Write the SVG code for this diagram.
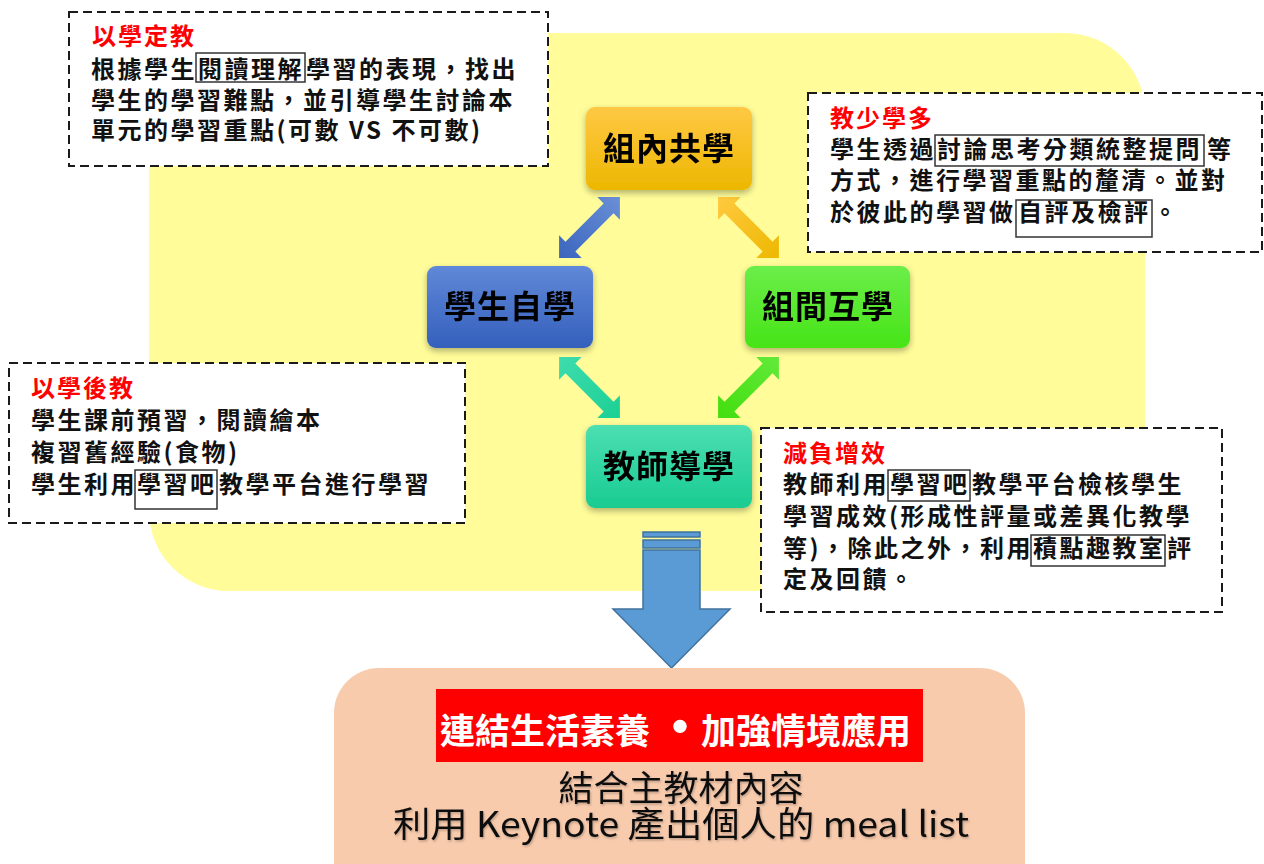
<svg xmlns="http://www.w3.org/2000/svg" width="1264" height="864" viewBox="0 0 1264 864">
<defs>
<style>
.bx{fill:#fff;stroke:#1a1a1a;stroke-width:2;stroke-dasharray:9 5}
.t{font-family:"Noto Sans CJK TC","Noto Sans CJK SC",sans-serif;font-size:24px;font-weight:bold;letter-spacing:2.5px;fill:#111}
.ttl{font-family:"Noto Sans CJK TC","Noto Sans CJK SC",sans-serif;font-size:24px;font-weight:bold;letter-spacing:2px;fill:#ff0000}
.hl{fill:none;stroke:#333;stroke-width:1.5}
.nt{font-family:"Noto Sans CJK TC","Noto Sans CJK SC",sans-serif;font-size:32px;font-weight:bold;letter-spacing:1px;fill:#000;text-anchor:middle}
.bt{font-family:"Noto Sans CJK TC","Noto Sans CJK SC",sans-serif;font-size:35px;fill:#111;text-anchor:middle}
.wt{font-family:"Noto Sans CJK TC","Noto Sans CJK SC",sans-serif;font-size:35px;font-weight:bold;fill:#fff}
</style>
<filter id="sh" x="-10%" y="-10%" width="120%" height="130%">
<feDropShadow dx="0" dy="3" stdDeviation="3" flood-color="#000" flood-opacity="0.3"/>
</filter>
<filter id="tsh" x="-5%" y="-20%" width="110%" height="140%">
<feDropShadow dx="1" dy="1.5" stdDeviation="1" flood-color="#000" flood-opacity="0.25"/>
</filter>
<linearGradient id="gO" x1="0" y1="0" x2="0" y2="1"><stop offset="0" stop-color="#FFC845"/><stop offset="1" stop-color="#EDB700"/></linearGradient>
<linearGradient id="gB" x1="0" y1="0" x2="0" y2="1"><stop offset="0" stop-color="#6088D8"/><stop offset="1" stop-color="#3460BC"/></linearGradient>
<linearGradient id="gG" x1="0" y1="0" x2="0" y2="1"><stop offset="0" stop-color="#6CEE4A"/><stop offset="1" stop-color="#46E417"/></linearGradient>
<linearGradient id="gT" x1="0" y1="0" x2="0" y2="1"><stop offset="0" stop-color="#4CDFB2"/><stop offset="1" stop-color="#19CC91"/></linearGradient>
<linearGradient id="aB" x1="0" y1="0" x2="1" y2="0"><stop offset="0" stop-color="#3A66BE"/><stop offset="1" stop-color="#6A8FD6"/></linearGradient>
<linearGradient id="aO" x1="0" y1="0" x2="1" y2="0"><stop offset="0" stop-color="#FFC940"/><stop offset="1" stop-color="#EDB800"/></linearGradient>
<linearGradient id="aT" x1="0" y1="0" x2="1" y2="0"><stop offset="0" stop-color="#3EDCAE"/><stop offset="1" stop-color="#1CD094"/></linearGradient>
<linearGradient id="aG" x1="0" y1="0" x2="1" y2="0"><stop offset="0" stop-color="#42DE0E"/><stop offset="1" stop-color="#62EA3A"/></linearGradient>
<polygon id="dbl" points="-43,0 -27,-16 -27,-7 27,-7 27,-16 43,0 27,16 27,7 -27,7 -27,16"/>
</defs>

<rect x="0" y="0" width="1264" height="864" fill="#ffffff"/>
<rect id="bg" x="149" y="33" width="996" height="558" rx="80" fill="#FFFC99"/>

<g id="connectors">
<use href="#dbl" fill="url(#aB)" transform="translate(589.5,227.5) rotate(-45)"/>
<use href="#dbl" fill="url(#aO)" transform="translate(748.5,227.5) rotate(45)"/>
<use href="#dbl" fill="url(#aT)" transform="translate(589.5,387.5) rotate(45)"/>
<use href="#dbl" fill="url(#aG)" transform="translate(748.5,387.5) rotate(-45)"/>
<g id="bigArrow" fill="#5B9BD5" stroke="#41719C" stroke-width="1.5">
<rect x="643" y="532" width="57" height="5"/>
<rect x="643" y="540" width="57" height="8"/>
<path d="M643,550 H700 V609 H730 L671.5,668 L613,609 H643 Z"/>
</g>
</g>

<g id="box1">
<rect class="bx" x="69" y="12" width="479" height="154"/>
<text class="ttl" x="92" y="45">以學定教</text>
<rect class="hl" x="196" y="53" width="109" height="29"/>
<text class="t" y="78"><tspan x="91">根據學生</tspan><tspan x="198">閱讀理解</tspan><tspan x="306">學習的表現，找出</tspan></text>
<text class="t" x="91" y="109">學生的學習難點，並引導學生討論本</text>
<text class="t" x="91" y="139">單元的學習重點(可數 VS 不可數)</text>
</g>

<g id="box2">
<rect class="bx" x="808" y="93" width="454" height="159"/>
<text class="ttl" x="830" y="127">教少學多</text>
<rect class="hl" x="935" y="135" width="269" height="31"/>
<text class="t" y="158"><tspan x="830">學生透過</tspan><tspan x="937">討論思考分類統整提問</tspan><tspan x="1207">等</tspan></text>
<text class="t" x="830" y="189">方式，進行學習重點的釐清。並對</text>
<rect class="hl" x="1016" y="200" width="136" height="37"/>
<text class="t" y="221"><tspan x="830">於彼此的學習做</tspan><tspan x="1018">自評及檢評</tspan><tspan x="1153">。</tspan></text>
</g>

<g id="box3">
<rect class="bx" x="9" y="363" width="456" height="160"/>
<text class="ttl" x="31" y="397">以學後教</text>
<text class="t" x="31" y="429">學生課前預習，閱讀繪本</text>
<text class="t" x="31" y="461">複習舊經驗(食物)</text>
<rect class="hl" x="135" y="470" width="82" height="39"/>
<text class="t" y="493"><tspan x="31">學生利用</tspan><tspan x="137">學習吧</tspan><tspan x="219">教學平台進行學習</tspan></text>
</g>

<g id="box4">
<rect class="bx" x="761" y="428" width="461" height="184"/>
<text class="ttl" x="783" y="462">減負增效</text>
<rect class="hl" x="888" y="470" width="82" height="31"/>
<text class="t" y="493"><tspan x="783">教師利用</tspan><tspan x="890">學習吧</tspan><tspan x="972">教學平台檢核學生</tspan></text>
<text class="t" x="783" y="525">學習成效(形成性評量或差異化教學</text>
<rect class="hl" x="1031" y="535" width="134" height="31"/>
<text class="t" y="557"><tspan x="783">等)，除此之外，利用</tspan><tspan x="1033">積點趣教室</tspan><tspan x="1167">評</tspan></text>
<text class="t" x="783" y="588">定及回饋。</text>
</g>

<g id="n1" filter="url(#sh)">
<rect x="586" y="107" width="166" height="83" rx="9" fill="url(#gO)"/>
<text class="nt" x="669" y="160">組內共學</text>
</g>
<g id="n2" filter="url(#sh)">
<rect x="427" y="266" width="166" height="82" rx="9" fill="url(#gB)"/>
<text class="nt" x="510" y="318">學生自學</text>
</g>
<g id="n3" filter="url(#sh)">
<rect x="745" y="266" width="165" height="82" rx="9" fill="url(#gG)"/>
<text class="nt" x="828" y="318">組間互學</text>
</g>
<g id="n4" filter="url(#sh)">
<rect x="586" y="425" width="166" height="83" rx="9" fill="url(#gT)"/>
<text class="nt" x="669" y="478">教師導學</text>
</g>

<g id="result">
<rect x="334" y="668" width="691" height="240" rx="45" fill="#F8CBAD"/>
<rect x="436" y="689" width="487" height="73" fill="#FF0000"/>
<text class="wt" x="440" y="744">連結生活素養</text>
<text class="wt" x="680" y="746" text-anchor="middle" style="font-size:52px">•</text>
<text class="wt" x="701" y="744">加強情境應用</text>
<g filter="url(#tsh)">
<text class="bt" x="681" y="801">結合主教材內容</text>
<text class="bt" x="681" y="837" textLength="576" lengthAdjust="spacingAndGlyphs">利用 Keynote 產出個人的 meal list</text>
</g>
</g>
</svg>
